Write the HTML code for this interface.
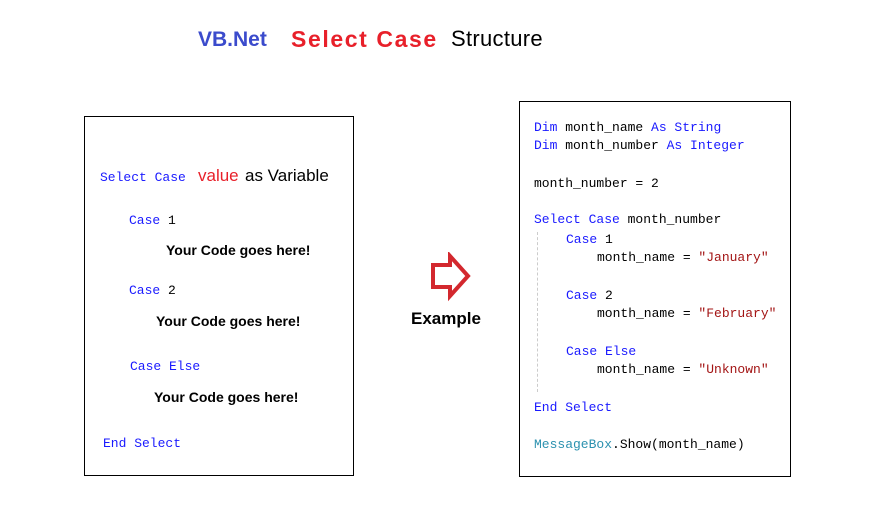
<!DOCTYPE html>
<html><head><style>
body{margin:0;width:894px;height:509px;background:#fff;position:relative;overflow:hidden;font-family:"Liberation Sans",sans-serif}
.t{position:absolute;white-space:pre;line-height:1}
.m{font-family:"Liberation Mono",monospace;font-size:13px}
.k{color:#1a1aff}.s{color:#a31515}.c{color:#2b91af}
.b{font-weight:bold;font-size:14px;color:#000}
.box{position:absolute;border:1px solid #000;background:#fff;box-sizing:border-box}
</style></head><body>
<div class="t" style="left:198px;top:29px;font-size:21px;font-weight:bold;color:#3b4bcc">VB.Net</div>
<div class="t" style="left:291px;top:28px;font-size:23px;font-weight:bold;color:#e8202a;letter-spacing:1.6px">Select Case</div>
<div class="t" style="left:451px;top:28px;font-size:22px;color:#000;letter-spacing:0.3px">Structure</div>

<div class="box" style="left:84px;top:116px;width:270px;height:360px"></div>
<div class="t m k" style="left:100px;top:171px">Select Case</div>
<div class="t" style="left:198px;top:167px;font-size:17px;color:#e8202a">value</div>
<div class="t" style="left:245px;top:167px;font-size:17px;color:#000">as Variable</div>
<div class="t m" style="left:129px;top:214px"><span class="k">Case</span> 1</div>
<div class="t b" style="left:166px;top:243px">Your Code goes here!</div>
<div class="t m" style="left:129px;top:284px"><span class="k">Case</span> 2</div>
<div class="t b" style="left:156px;top:314px">Your Code goes here!</div>
<div class="t m k" style="left:130px;top:360px">Case Else</div>
<div class="t b" style="left:154px;top:390px">Your Code goes here!</div>
<div class="t m k" style="left:103px;top:437px">End Select</div>

<svg style="position:absolute;left:428px;top:252px" width="46" height="50">
<path d="M5 13 H22 V4 L40 24 L22 44 V35 H5 Z" fill="#fff" stroke="#d3282e" stroke-width="4" stroke-linejoin="miter"/>
</svg>
<div class="t" style="left:411px;top:310px;font-size:17px;font-weight:bold">Example</div>

<div class="box" style="left:519px;top:101px;width:272px;height:376px"></div>
<div style="position:absolute;left:537px;top:232px;height:160px;border-left:1px dashed #ccc"></div>
<div class="t m" style="left:534px;top:121px"><span class="k">Dim</span> month_name <span class="k">As String</span></div>
<div class="t m" style="left:534px;top:139px"><span class="k">Dim</span> month_number <span class="k">As Integer</span></div>
<div class="t m" style="left:534px;top:177px">month_number = 2</div>
<div class="t m" style="left:534px;top:213px"><span class="k">Select Case</span> month_number</div>
<div class="t m" style="left:566px;top:233px"><span class="k">Case</span> 1</div>
<div class="t m" style="left:597px;top:251px">month_name = <span class="s">"January"</span></div>
<div class="t m" style="left:566px;top:289px"><span class="k">Case</span> 2</div>
<div class="t m" style="left:597px;top:307px">month_name = <span class="s">"February"</span></div>
<div class="t m k" style="left:566px;top:345px">Case Else</div>
<div class="t m" style="left:597px;top:363px">month_name = <span class="s">"Unknown"</span></div>
<div class="t m k" style="left:534px;top:401px">End Select</div>
<div class="t m" style="left:534px;top:438px"><span class="c">MessageBox</span>.Show(month_name)</div>
</body></html>
